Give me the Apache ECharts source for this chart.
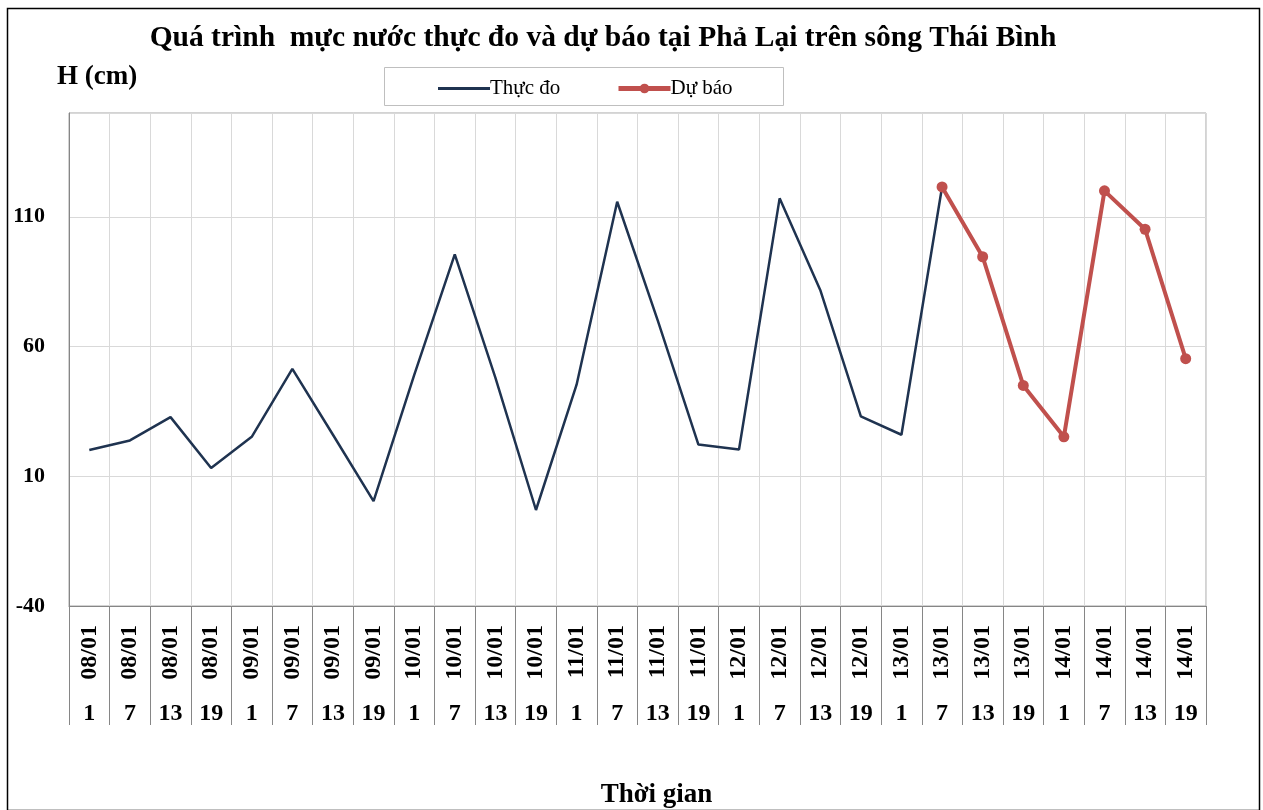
<!DOCTYPE html>
<html>
<head>
<meta charset="utf-8">
<script src="https://cdn.jsdelivr.net/npm/echarts@6/dist/echarts.min.js"></script>
<style>
html,body{margin:0;padding:0;background:#fff;}
#chart{width:1263px;height:810px;}
</style>
</head>
<body>
<div id="chart"></div>
<script>
// ---- data ----
const dateLabels = ['08/01','08/01','08/01','08/01','09/01','09/01','09/01','09/01',
  '10/01','10/01','10/01','10/01','11/01','11/01','11/01','11/01',
  '12/01','12/01','12/01','12/01','13/01','13/01','13/01','13/01',
  '14/01','14/01','14/01','14/01'];
const hourLabels = ['1','7','13','19','1','7','13','19','1','7','13','19','1','7','13','19',
  '1','7','13','19','1','7','13','19','1','7','13','19'];
const observed = [20.1, 23.8, 32.8, 13.2, 25.2, 51.4, 26, 0.4, 49, 95.5, 48, -3,
  45.3, 115.8, 70, 22.2, 20.3, 117.1, 81.8, 33.1, 26, 121.5];
const forecast = [null, null, null, null, null, null, null, null, null, null, null, null,
  null, null, null, null, null, null, null, null, null, 121.5, 94.6, 45, 25.2, 120, 105.2, 55.3];
const titleText = 'Quá trình  mực nước thực đo và dự báo tại Phả Lại trên sông Thái Bình';
const seriesNames = ['Thực đo', 'Dự báo'];

const SERIF = '"Liberation Serif", "DejaVu Serif", serif';
const chart = echarts.init(document.getElementById('chart'), null, {renderer: 'canvas'});
chart.setOption({
  animation: false,
  backgroundColor: '#fff',
  title: {
    text: titleText,
    left: 598, top: 18, textAlign: 'center',
    textStyle: {fontFamily: SERIF, fontWeight: 'bold', fontSize: 29.5, color: '#000'}
  },
  legend: [
    {
      data: [{name: seriesNames[0], icon: 'rect'}],
      left: 433, top: 73,
      itemWidth: 52, itemHeight: 3,
      textStyle: {fontFamily: SERIF, fontSize: 21, color: '#000', padding: [0,0,0,-5]}
    },
    {
      data: [seriesNames[1]],
      left: 611, top: 73,
      itemWidth: 52, itemHeight: 12,
      lineStyle: {width: 5},
      textStyle: {fontFamily: SERIF, fontSize: 21, color: '#000', padding: [0,0,0,-5]}
    }
  ],
  graphic: [
    {type: 'rect', left: 382, top: 65, shape: {width: 399, height: 38},
     style: {fill: 'none', stroke: '#bfbfbf', lineWidth: 1}, z: -1},
    {type: 'rect', left: 5, top: 6, shape: {width: 1252, height: 802},
     style: {fill: 'none', stroke: '#000', lineWidth: 1.5}, z: -1}
  ],
  grid: {left: 69, top: 113, width: 1137, height: 493, show: true,
    borderColor: '#a6a6a6', borderWidth: 1, containLabel: false, outerBoundsMode: 'none'},
  xAxis: [
    {
      type: 'category', data: dateLabels, boundaryGap: true, position: 'bottom',
      name: 'Thời gian', nameLocation: 'middle', nameGap: 176,
      nameTextStyle: {fontFamily: SERIF, fontWeight: 'bold', fontSize: 27, color: '#000', padding: [0,0,0,38]},
      axisLine: {show: true, onZero: false, lineStyle: {color: '#868686', width: 1}},
      axisTick: {show: true, interval: 0, length: 119, lineStyle: {color: '#868686'}},
      splitLine: {show: true, interval: 0, lineStyle: {color: '#d9d9d9', width: 1}},
      axisLabel: {interval: 0, rotate: 90, margin: 19, fontFamily: SERIF, fontWeight: 'bold', fontSize: 24, color: '#000'}
    },
    {
      type: 'category', data: hourLabels, boundaryGap: true, position: 'bottom', offset: 0,
      axisLine: {show: false, onZero: false}, axisTick: {show: false}, splitLine: {show: false},
      axisLabel: {interval: 0, margin: 96, fontFamily: SERIF, fontWeight: 'bold', fontSize: 24, color: '#000'}
    }
  ],
  yAxis: {
    type: 'value', min: -40, max: 150, interval: 50,
    name: 'H (cm)', nameLocation: 'end', nameGap: 22,
    nameTextStyle: {fontFamily: SERIF, fontWeight: 'bold', fontSize: 27, color: '#000', align: 'left', padding: [0,0,0,-12]},
    axisLine: {show: true, lineStyle: {color: '#868686', width: 1}},
    axisTick: {show: false},
    splitLine: {show: true, lineStyle: {color: '#d9d9d9', width: 1}},
    axisLabel: {showMaxLabel: false, margin: 24, fontFamily: SERIF, fontWeight: 'bold', fontSize: 22, color: '#000'}
  },
  series: [
    {name: seriesNames[0], type: 'line', data: observed, xAxisIndex: 0,
     symbol: 'none', lineStyle: {color: '#1f3350', width: 2.5}, itemStyle: {color: '#1f3350'}, z: 2},
    {name: seriesNames[1], type: 'line', data: forecast, xAxisIndex: 0,
     symbol: 'circle', symbolSize: 11, lineStyle: {color: '#c0504d', width: 4},
     itemStyle: {color: '#c0504d'}, z: 3}
  ]
});
</script>
</body>
</html>
